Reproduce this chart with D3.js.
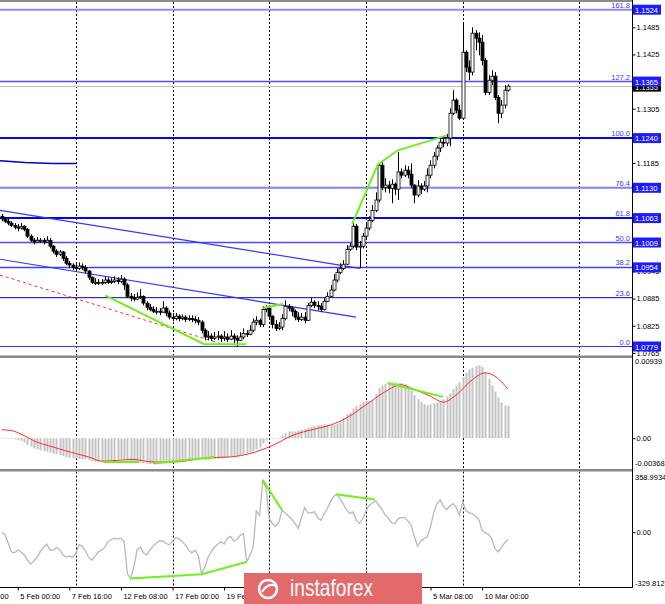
<!DOCTYPE html>
<html><head><meta charset="utf-8">
<script src="https://cdn.jsdelivr.net/npm/d3@7"></script>
<style>body{margin:0;background:#fff}svg{display:block}text{font-family:"Liberation Sans",Arial,sans-serif}</style>
</head><body><svg id="c" width="665" height="604"></svg>
<script>
// ---------- DATA ----------
const firstOpen = 1.1067;
const closes = [
1.1061,1.1056,1.1052,1.1047,1.1043,1.1041,1.1045,1.1038,1.1023,1.1014,
1.1010,1.1014,1.1014,1.1010,1.1014,1.1001,1.0990,1.0983,1.0988,1.0974,
1.0963,1.0959,1.0954,1.0952,1.0957,1.0954,1.0946,1.0932,1.0921,1.0921,
1.0919,1.0921,1.0926,1.0921,1.0923,1.0926,1.0923,1.0928,1.0915,1.0890,
1.0886,1.0884,1.0888,1.0890,1.0875,1.0866,1.0861,1.0857,1.0857,1.0855,
1.0864,1.0853,1.0844,1.0841,1.0846,1.0841,1.0844,1.0839,1.0841,1.0839,
1.0837,1.0833,1.0815,1.0800,1.0802,1.0797,1.0800,1.0802,1.0797,1.0800,
1.0795,1.0802,1.0797,1.0793,1.0800,1.0808,1.0806,1.0815,1.0833,1.0837,
1.0828,1.0861,1.0864,1.0846,1.0828,1.0819,1.0822,1.0841,1.0868,1.0864,
1.0857,1.0844,1.0839,1.0844,1.0837,1.0870,1.0877,1.0870,1.0868,1.0861,
1.0879,1.0890,1.0904,1.0926,1.0943,1.0952,1.0961,1.0994,1.1001,1.1045,
1.0999,1.1001,1.1023,1.1041,1.1058,1.1080,1.1103,1.1180,1.1131,1.1136,
1.1129,1.1138,1.1127,1.1165,1.1158,1.1169,1.1160,1.1136,1.1114,1.1134,
1.1127,1.1134,1.1158,1.1180,1.1200,1.1218,1.1231,1.1229,1.1240,1.1295,
1.1324,1.1302,1.1284,1.1430,1.1397,1.1386,1.1472,1.1461,1.1452,1.1412,
1.1341,1.1368,1.1377,1.1330,1.1295,1.1313,1.1346,1.1355];
const highs = [
1.1072,1.1065,1.1061,1.1056,1.1052,1.1050,1.1052,1.1047,1.1041,1.1027,
1.1019,1.1021,1.1019,1.1019,1.1023,1.1019,1.1003,1.0994,1.0992,1.0990,
1.0979,1.0968,1.0963,1.0961,1.0965,1.0963,1.0959,1.0948,1.0934,1.0930,
1.0928,1.0928,1.0934,1.0932,1.0930,1.0934,1.0932,1.0937,1.0932,1.0919,
1.0897,1.0895,1.0899,1.0906,1.0892,1.0879,1.0873,1.0868,1.0866,1.0864,
1.0879,1.0868,1.0859,1.0853,1.0853,1.0850,1.0850,1.0848,1.0848,1.0848,
1.0846,1.0844,1.0837,1.0819,1.0813,1.0808,1.0811,1.0813,1.0806,1.0813,
1.0808,1.0815,1.0808,1.0804,1.0811,1.0819,1.0815,1.0826,1.0841,1.0846,
1.0841,1.0868,1.0870,1.0870,1.0848,1.0837,1.0833,1.0850,1.0881,1.0873,
1.0868,1.0861,1.0855,1.0853,1.0855,1.0875,1.0886,1.0881,1.0879,1.0875,
1.0886,1.0899,1.0915,1.0939,1.0952,1.0963,1.0970,1.1003,1.1008,1.1052,
1.1050,1.1012,1.1030,1.1050,1.1067,1.1092,1.1120,1.1184,1.1187,1.1151,
1.1145,1.1149,1.1142,1.1209,1.1173,1.1180,1.1178,1.1184,1.1138,1.1147,
1.1140,1.1145,1.1173,1.1191,1.1209,1.1224,1.1240,1.1244,1.1249,1.1306,
1.1346,1.1328,1.1313,1.1496,1.1434,1.1412,1.1485,1.1479,1.1474,1.1468,
1.1417,1.1379,1.1390,1.1386,1.1335,1.1324,1.1357,1.1359];
const lows = [
1.1056,1.1052,1.1047,1.1043,1.1038,1.1034,1.1038,1.1034,1.1019,1.1010,
1.1005,1.1008,1.1008,1.1005,1.1008,1.0996,1.0985,1.0977,1.0979,1.0968,
1.0959,1.0952,1.0948,1.0946,1.0948,1.0948,1.0941,1.0926,1.0917,1.0915,
1.0915,1.0915,1.0917,1.0917,1.0917,1.0919,1.0917,1.0919,1.0904,1.0886,
1.0879,1.0879,1.0881,1.0884,1.0870,1.0859,1.0857,1.0853,1.0850,1.0848,
1.0853,1.0846,1.0839,1.0835,1.0837,1.0835,1.0837,1.0833,1.0835,1.0833,
1.0830,1.0826,1.0808,1.0793,1.0793,1.0791,1.0793,1.0793,1.0789,1.0791,
1.0789,1.0793,1.0786,1.0779,1.0791,1.0795,1.0800,1.0804,1.0811,1.0826,
1.0822,1.0822,1.0855,1.0841,1.0819,1.0813,1.0815,1.0815,1.0837,1.0857,
1.0846,1.0837,1.0833,1.0835,1.0830,1.0835,1.0866,1.0864,1.0859,1.0855,
1.0859,1.0877,1.0888,1.0901,1.0921,1.0939,1.0948,1.0959,1.0990,1.0996,
1.0992,1.0952,1.0996,1.1019,1.1036,1.1054,1.1076,1.1098,1.1125,1.1120,
1.1118,1.1096,1.1114,1.1103,1.1151,1.1154,1.1151,1.1129,1.1096,1.1109,
1.1116,1.1123,1.1120,1.1151,1.1173,1.1191,1.1209,1.1220,1.1222,1.1222,
1.1291,1.1295,1.1280,1.1280,1.1386,1.1368,1.1379,1.1434,1.1423,1.1401,
1.1335,1.1335,1.1357,1.1324,1.1273,1.1284,1.1306,1.1343];

const macdHist = [
0.0001,0.00005,0,-0.0001,-0.00015,-0.0002,-0.0003,-0.0005,-0.0008,-0.001,
-0.0012,-0.0013,-0.0014,-0.0015,-0.0016,-0.0017,-0.0018,-0.0019,-0.002,-0.0021,
-0.0022,-0.0023,-0.00235,-0.0024,-0.00245,-0.00245,-0.0025,-0.0026,-0.0027,-0.00275,
-0.00275,-0.00275,-0.0027,-0.00265,-0.0026,-0.00255,-0.0025,-0.0025,-0.00255,-0.00265,
-0.00275,-0.0028,-0.00285,-0.0029,-0.00295,-0.003,-0.00305,-0.00305,-0.00305,-0.003,
-0.00295,-0.00295,-0.00295,-0.0029,-0.00285,-0.0028,-0.00275,-0.0027,-0.00265,-0.0026,
-0.00255,-0.0025,-0.0025,-0.00255,-0.00255,-0.0025,-0.00245,-0.0024,-0.00235,-0.0023,
-0.00225,-0.0022,-0.00215,-0.0021,-0.002,-0.0019,-0.0018,-0.00165,-0.0015,-0.0013,
-0.0011,-0.0006,-0.00025,-0.00005,-0.00004,0,0.00005,0.0003,0.0006,0.0008,
0.0008,0.0008,0.0009,0.001,0.0011,0.00125,0.00135,0.00145,0.00155,0.0016,
0.00165,0.0016,0.00155,0.00155,0.0017,0.002,0.0024,0.0028,0.003,0.0035,
0.0038,0.004,0.0043,0.0044,0.0043,0.0045,0.0052,0.0059,0.0062,0.0064,
0.0065,0.00655,0.0066,0.0065,0.0065,0.0064,0.0061,0.0056,0.0051,0.0046,
0.0043,0.004,0.0039,0.004,0.0041,0.0042,0.0043,0.0046,0.0049,0.0053,
0.0058,0.0062,0.0066,0.0072,0.0077,0.0081,0.0083,0.0085,0.0086,0.0084,
0.0078,0.007,0.0062,0.0055,0.0048,0.0042,0.0039,0.0038];
const signalIdx = [0,3,6,10,16,23,27,31,41,47,53,64,71,77,84,90,97,102,107,114,119,124,127,133,137,141,146,150,153,157];
const signalVal = [0.001,0.0009,0.0005,-0.0003,-0.00104,-0.0018,-0.0022,-0.0027,-0.0025,-0.0028,-0.0028,-0.0023,-0.0022,-0.0018,-0.00085,0.0003,0.00108,0.00155,0.0024,0.0042,0.0055,0.0063,0.0059,0.00495,0.00425,0.0051,0.0069,0.0077,0.0073,0.0058];

const cci = [
-2,-12,-64,-118,-124,-108,-118,-136,-168,-192,
-172,-152,-116,-92,-72,-108,-108,-92,-104,-138,
-148,-144,-152,-128,-76,-84,-112,-152,-168,-144,
-118,-108,-92,-58,-44,-38,-40,-36,-58,-249,
-280,-210,-108,-88,-124,-138,-108,-84,-65,-53,
-53,-68,-76,-53,-33,-39,-57,-76,-108,-124,
-108,-140,-253,-210,-152,-118,-92,-72,-58,-72,
-38,-25,-53,-44,-19,-9,-178,-140,-92,128,
102,312,262,82,52,36,62,132,116,96,
76,52,22,88,148,116,116,122,88,72,
108,142,182,216,228,202,168,132,112,122,
72,52,82,128,162,176,188,162,136,102,
82,56,52,82,88,88,68,42,-25,-85,
-53,-39,-29,32,116,172,196,156,136,156,
172,148,102,186,128,116,112,96,76,12,
-4,-12,-39,-99,-119,-93,-65,-44];

const fibRatios = ["161.8","127.2","100.0","76.4","61.8","50.0","38.2","23.6","0.0"];
const fibPrices = [1.1524,1.1365,1.1240,1.1130,1.1063,1.1009,1.0954,1.0887,1.0779];
const fibBoxed  = [true,true,true,true,true,true,true,false,true];
const priceTicks = [1.0765,1.0825,1.0885,1.0945,1.1185,1.1305,1.1425,1.1485];
const timeIdx = [-11,5,21,37,53,69,133,149];
const timeLabels = ["3 Feb 08:00","5 Feb 00:00","7 Feb 16:00","12 Feb 08:00","17 Feb 00:00","19 Feb 16:00","5 Mar 08:00","10 Mar 00:00"];
const gridIdx = [23,53,83,113,143,179];
const macdRange = [-0.00368,0.00939];
const cciRange = [-329.812,358.9934];

// drawn objects (bar index, value)
const trendLines = [[[-0.5,1.1080],[111.1,1.0952]],[[-0.5,1.0972],[109.9,1.0844]]];
const redDashed = [[-0.5,1.0937],[67.7,1.0786]];
const oldLevel = [[-0.5,1.1190],[7.3,1.1186],[15.6,1.1184],[23.1,1.1184]];
const greenMain = [
 [[32.1,1.0892],[62.8,1.0784],[75.8,1.0784]],
 [[80.8,1.0864],[87.3,1.0873]],
 [[108.7,1.1050],[116.7,1.1182],[122.9,1.1213],[138.1,1.1246]]];
const greenMacd = [[[31.4,-0.0028],[42.6,-0.0028]],[[47.1,-0.00298],[66.0,-0.0022]],[[119.7,0.0065],[136.9,0.00487]]];
const greenCci = [[[39.9,-278],[62.1,-253],[75.9,-179]],[[80.9,316],[87.0,132]],[[103.6,228],[115.8,196]]];

// ---------- CHART ----------
const svg = d3.select("#c");
const PR = 632;
const x  = d3.scaleLinear().domain([-0.5,195.5]).range([0,PR]);
const yP = d3.scaleLinear().domain([1.0779,1.1524]).range([346.5,9.7]);
const yM = d3.scaleLinear().domain(macdRange).range([469.5,358.5]);
const yC = d3.scaleLinear().domain(cciRange).range([587,472.5]);

const defs = svg.append("defs");
function clip(id,y0,h){defs.append("clipPath").attr("id",id).append("rect").attr("x",0).attr("y",y0).attr("width",PR).attr("height",h);}
clip("cm",2,353.5); clip("cd",358,111.5); clip("cc",471.5,115.5);

// grid
const gGrid = svg.append("g");
gridIdx.forEach(i=>{
  [[2,355.5],[358,469],[471.5,587]].forEach(([a,b])=>{
    gGrid.append("line").attr("x1",Math.round(x(i))+0.5).attr("x2",Math.round(x(i))+0.5)
      .attr("y1",a).attr("y2",b).attr("stroke","#000").attr("stroke-width",1).attr("stroke-dasharray","2,2");
  });
});

// main panel
const gM = svg.append("g").attr("clip-path","url(#cm)");
const fibStyle = {"161.8":["#8c8cff",2],"127.2":["#4f4fff",1.5],"100.0":["#0000ff",2],"76.4":["#8080ff",2],
  "61.8":["#0000ff",2],"50.0":["#4a4aff",1.5],"38.2":["#4040ff",1.5],"23.6":["#0000d8",1],"0.0":["#3030ff",1.2]};
fibPrices.forEach((p,k)=>{
  const st=fibStyle[fibRatios[k]];
  gM.append("line").attr("x1",0).attr("x2",PR).attr("y1",yP(p)).attr("y2",yP(p))
    .attr("stroke",st[0]).attr("stroke-width",st[1]);
});
const lastClose = closes[closes.length-1];
gM.append("line").attr("x1",0).attr("x2",PR).attr("y1",Math.round(yP(lastClose))+0.5).attr("y2",Math.round(yP(lastClose))+0.5)
  .attr("stroke","#c4c4c4").attr("stroke-width",1);

const lineP = d3.line().x(d=>x(d[0])).y(d=>yP(d[1]));
gM.append("path").attr("d",lineP(oldLevel)).attr("fill","none").attr("stroke","#0000d0").attr("stroke-width",1.5);
trendLines.forEach(t=>gM.append("path").attr("d",lineP(t)).attr("fill","none").attr("stroke","#3535ff").attr("stroke-width",1.2));
gM.append("path").attr("d",lineP(redDashed)).attr("fill","none").attr("stroke","#ff3030").attr("stroke-width",1).attr("stroke-dasharray","3,3");

// candles
const bars = closes.map((c,i)=>({i, o: i===0?firstOpen:closes[i-1], h: highs[i], l: lows[i], c}));
const gC = gM.append("g");
gC.selectAll("line.w").data(bars).join("line")
  .attr("x1",d=>Math.round(x(d.i))+0.5).attr("x2",d=>Math.round(x(d.i))+0.5)
  .attr("y1",d=>yP(Math.max(d.h,d.o,d.c))).attr("y2",d=>yP(Math.min(d.l,d.o,d.c)))
  .attr("stroke","#000").attr("stroke-width",1);
gC.selectAll("rect").data(bars).join("rect")
  .attr("x",d=>Math.round(x(d.i))-1)
  .attr("width",3)
  .attr("y",d=>yP(Math.max(d.o,d.c)))
  .attr("height",d=>Math.max(1,Math.abs(yP(d.o)-yP(d.c))))
  .attr("fill",d=>d.c>=d.o?"#fff":"#000")
  .attr("stroke","#000").attr("stroke-width",0.8);

greenMain.forEach(g=>gM.append("path").attr("d",lineP(g)).attr("fill","none").attr("stroke","#72f01a").attr("stroke-width",2));

// fib texts
fibPrices.forEach((p,k)=>{
  svg.append("text").attr("x",630).attr("y",yP(p)-2).attr("text-anchor","end")
    .attr("font-size",7.5).attr("fill","#3838ff").text(fibRatios[k]);
});

// MACD panel
const gD = svg.append("g").attr("clip-path","url(#cd)");
gD.selectAll("rect").data(macdHist).join("rect")
  .attr("x",(d,i)=>Math.round(x(i))-0.5).attr("width",2)
  .attr("y",d=>Math.min(yM(0),yM(d))).attr("height",d=>Math.max(0.6,Math.abs(yM(d)-yM(0))))
  .attr("fill","#c3c3c3");
const sigPts = signalIdx.map((i,k)=>[i,signalVal[k]]);
gD.append("path").attr("d",d3.line().x(d=>x(d[0])).y(d=>yM(d[1])).curve(d3.curveMonotoneX)(sigPts))
  .attr("fill","none").attr("stroke","#ff2a2a").attr("stroke-width",1);
const lineM = d3.line().x(d=>x(d[0])).y(d=>yM(d[1]));
greenMacd.forEach(g=>gD.append("path").attr("d",lineM(g)).attr("fill","none").attr("stroke","#72f01a").attr("stroke-width",2));

// CCI panel
const gI = svg.append("g").attr("clip-path","url(#cc)");
gI.append("path").attr("d",d3.line().x((d,i)=>x(i)).y(d=>yC(d))(cci))
  .attr("fill","none").attr("stroke","#b8b8b8").attr("stroke-width",1.3);
const lineC = d3.line().x(d=>x(d[0])).y(d=>yC(d[1]));
greenCci.forEach(g=>gI.append("path").attr("d",lineC(g)).attr("fill","none").attr("stroke","#72f01a").attr("stroke-width",2));

// frames / separators
svg.append("rect").attr("x",0).attr("y",0).attr("width",PR).attr("height",2).attr("fill","#8c8c8c");
svg.append("rect").attr("x",0).attr("y",355.5).attr("width",PR).attr("height",2.5).attr("fill","#8a8a8a");
svg.append("rect").attr("x",0).attr("y",469).attr("width",PR).attr("height",2.5).attr("fill","#8a8a8a");
svg.append("line").attr("x1",PR+0.5).attr("x2",PR+0.5).attr("y1",0).attr("y2",587.5).attr("stroke","#000");

// right price axis
const axP = svg.append("g").attr("transform",`translate(${PR+0.5},0)`)
  .call(d3.axisRight(yP).tickValues(priceTicks).tickSize(3).tickPadding(1).tickFormat(d3.format(".4f")));
axP.select(".domain").remove();
axP.selectAll("text").attr("font-size",7.5).attr("font-family","Liberation Sans, Arial").attr("fill","#000");
axP.selectAll("line").attr("stroke","#000");

// current price box (drawn below the fib boxes)
{
  const yy=yP(lastClose);
  svg.append("rect").attr("x",PR+1).attr("y",yy-3.5).attr("width",28).attr("height",9).attr("fill","#000");
  svg.append("text").attr("x",PR+3).attr("y",yy+4).attr("font-size",7.5).attr("fill","#fff").text(d3.format(".4f")(lastClose));
}
// fib boxes
fibPrices.forEach((p,k)=>{
  if(!fibBoxed[k]) return;
  const yy=yP(p);
  svg.append("rect").attr("x",PR+1).attr("y",yy-5).attr("width",28).attr("height",10).attr("fill","#1c1cff");
  svg.append("text").attr("x",PR+3).attr("y",yy+3).attr("font-size",7.5).attr("fill","#fff").text(d3.format(".4f")(p));
});

// MACD axis
const axM = svg.append("g").attr("transform",`translate(${PR+0.5},0)`)
  .call(d3.axisRight(yM).tickValues([0]).tickSize(3).tickPadding(1).tickFormat(d3.format(".2f")));
axM.select(".domain").remove();
axM.selectAll("text").attr("font-size",7.5).attr("font-family","Liberation Sans, Arial");
svg.append("text").attr("x",PR+3).attr("y",yM(macdRange[1])+5.5).attr("font-size",7.5).text(String(macdRange[1]));
svg.append("text").attr("x",PR+3).attr("y",yM(macdRange[0])-3.5).attr("font-size",7.5).text(String(macdRange[0]));

// CCI axis
const axC = svg.append("g").attr("transform",`translate(${PR+0.5},0)`)
  .call(d3.axisRight(yC).tickValues([0]).tickSize(3).tickPadding(1).tickFormat(d3.format(".2f")));
axC.select(".domain").remove();
axC.selectAll("text").attr("font-size",7.5).attr("font-family","Liberation Sans, Arial");
svg.append("text").attr("x",PR+3).attr("y",yC(cciRange[1])+7).attr("font-size",7.5).text(String(cciRange[1]));
svg.append("text").attr("x",PR+3).attr("y",yC(cciRange[0])-1).attr("font-size",7.5).text(String(cciRange[0]));

// bottom time axis
const axT = svg.append("g").attr("transform","translate(0,587.5)")
  .call(d3.axisBottom(x).tickValues(timeIdx).tickSize(3).tickFormat((d,k)=>timeLabels[k]));
axT.select(".domain").attr("d",`M0,0H${PR+0.5}`);
axT.selectAll("text").attr("text-anchor","start").attr("dx",2).attr("font-size",7.5).attr("font-family","Liberation Sans, Arial");

// watermark logo
const gL = svg.append("g");
gL.append("rect").attr("x",244).attr("y",573).attr("width",178).attr("height",31).attr("fill","#e36a6a");
gL.append("circle").attr("cx",268).attr("cy",589).attr("r",9).attr("fill","none").attr("stroke","#fff").attr("stroke-width",2.5);
gL.append("path").attr("d","M262,592 Q268,582 276,586").attr("fill","none").attr("stroke","#fff").attr("stroke-width",2);
gL.append("text").attr("x",290).attr("y",596).attr("font-family","Open Sans, sans-serif").attr("font-size",24)
  .attr("textLength",83).attr("lengthAdjust","spacingAndGlyphs").attr("fill","#fff").text("instaforex");
</script></body></html>
